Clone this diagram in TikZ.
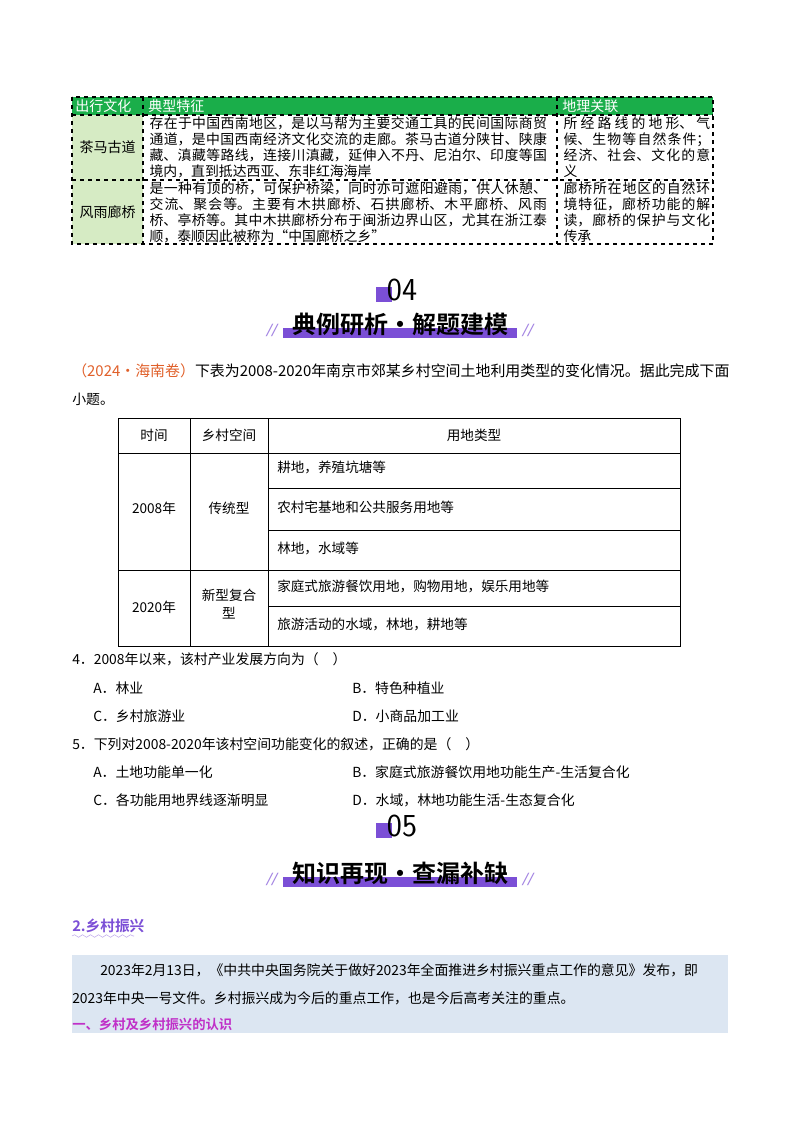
\documentclass[tikz,border=0pt]{standalone}
\usepackage{fontspec}
\setmainfont{Liberation Serif}
\newfontfamily\cjk{Noto Sans CJK SC}
\newfontfamily\cjkb{Noto Sans CJK SC Bold}
\XeTeXlinebreaklocale "zh"
\XeTeXlinebreakskip=0pt plus 1pt
\usetikzlibrary{decorations.pathmorphing}
\definecolor{hgreen}{HTML}{1AAE4A}
\definecolor{lgreen}{HTML}{D6EBC4}
\definecolor{purp}{HTML}{7B4FD6}
\definecolor{lblue}{HTML}{DCE6F2}
\definecolor{magen}{HTML}{C030C8}
\definecolor{orng}{HTML}{E0602A}
\tikzset{
 cell/.style={anchor=north west,inner sep=1pt,align=justify,font=\cjk\fontsize{10.4}{11.9}\selectfont},
 ctr/.style={font=\cjk\fontsize{10.5}{12}\selectfont},
 body/.style={anchor=west,inner sep=0pt,font=\cjk\fontsize{10.4}{12}\selectfont},
 tcell/.style={anchor=west,inner sep=0pt,font=\cjk\fontsize{10.2}{13}\selectfont},
 dl/.style={dashed,line width=0.8pt},
 tl/.style={line width=0.6pt},
 slash/.style={font=\bfseries\fontsize{14}{14}\selectfont\itshape,text=purp!70}
}
\begin{document}
\begin{tikzpicture}[x=0.75pt,y=-0.75pt]
\useasboundingbox (0,0) rectangle (800,1132);
% top table
\fill[hgreen] (72,97) rectangle (713,115);
\fill[lgreen] (72,115) rectangle (143,244);
\draw[dl] (72,97) rectangle (713,244);
\draw[dl] (72,115) -- (713,115);
\draw[dl] (72,180) -- (713,180);
\draw[dl] (143,97) -- (143,244);
\draw[dl] (557,97) -- (557,244);
\node[ctr,text=white,anchor=west,inner sep=0pt] (h1) at (75,106) {出行文化};
\node[ctr,text=white,anchor=west,inner sep=0pt] (h2) at (148,106) {典型特征};
\node[ctr,text=white,anchor=west,inner sep=0pt] (h3) at (562,106) {地理关联};
\node[ctr] (r1) at (107.5,147.5) {茶马古道};
\node[ctr] (r2) at (107.5,212) {风雨廊桥};
\node[cell,text width=298pt] (c11) at (148,115.5) {存在于中国西南地区，是以马帮为主要交通工具的民间国际商贸通道，是中国西南经济文化交流的走廊。茶马古道分陕甘、陕康藏、滇藏等路线，连接川滇藏，延伸入不丹、尼泊尔、印度等国境内，直到抵达西亚、东非红海海岸};
\node[cell,text width=110pt] (c12) at (562,115.5) {所经路线的地形、气候、生物等自然条件；经济、社会、文化的意义};
\node[cell,text width=298pt] (c21) at (148,180.5) {是一种有顶的桥，可保护桥梁，同时亦可遮阳避雨，供人休憩、交流、聚会等。主要有木拱廊桥、石拱廊桥、木平廊桥、风雨桥、亭桥等。其中木拱廊桥分布于闽浙边界山区，尤其在浙江泰顺，泰顺因此被称为“中国廊桥之乡”};
\node[cell,text width=110pt] (c22) at (562,180.5) {廊桥所在地区的自然环境特征，廊桥功能的解读，廊桥的保护与文化传承};
% 04 header
\fill[purp] (376,287) rectangle (392,302);
\node[font=\sffamily\fontsize{24}{24}\selectfont,inner sep=0pt] (n04) at (402,290) {04};
\fill[purp] (283,328) rectangle (517,338);
\node[font=\cjkb\fontsize{18}{18}\selectfont,inner sep=0pt] (t04) at (400,324) {典例研析•解题建模};
\node[slash] (s1) at (272,330) {//};
\node[slash] (s2) at (528,330) {//};
% question intro
\node[body,font=\cjk\fontsize{11.2}{12}\selectfont] (q0) at (72,371) {\textcolor{orng}{（2024·海南卷）}下表为2008-2020年南京市郊某乡村空间土地利用类型的变化情况。据此完成下面};
\node[body] (q0b) at (72,399) {小题。};
% table 2
\draw[tl] (118,418) rectangle (680,646);
\draw[tl] (118,453) -- (680,453);
\draw[tl] (268,488) -- (680,488);
\draw[tl] (268,530) -- (680,530);
\draw[tl] (118,570) -- (680,570);
\draw[tl] (268,606) -- (680,606);
\draw[tl] (190,418) -- (190,646);
\draw[tl] (268,418) -- (268,646);
\node[tcell,anchor=center] (t1) at (154,435) {时间};
\node[tcell,anchor=center] (t2) at (229,435) {乡村空间};
\node[tcell,anchor=center] (t3) at (474,435) {用地类型};
\node[tcell,anchor=center] (y1) at (154,508) {2008年};
\node[tcell,anchor=center] (k1) at (229,508) {传统型};
\node[tcell,anchor=center] (y2) at (154,607) {2020年};
\node[tcell,anchor=center,align=center] (k2) at (229,604) {新型复合\\型};
\node[tcell] (u1) at (277,467) {耕地，养殖坑塘等};
\node[tcell] (u2) at (277,507) {农村宅基地和公共服务用地等};
\node[tcell] (u3) at (277,548) {林地，水域等};
\node[tcell] (u4) at (277,586) {家庭式旅游餐饮用地，购物用地，娱乐用地等};
\node[tcell] (u5) at (277,624) {旅游活动的水域，林地，耕地等};
% questions
\node[body] (q4) at (72,659) {4．2008年以来，该村产业发展方向为（　）};
\node[body] (a4) at (93,688) {A．林业};
\node[body] (b4) at (352,688) {B．特色种植业};
\node[body] (c4) at (93,716) {C．乡村旅游业};
\node[body] (d4) at (352,716) {D．小商品加工业};
\node[body] (q5) at (72,744) {5．下列对2008-2020年该村空间功能变化的叙述，正确的是（　）};
\node[body] (a5) at (93,772) {A．土地功能单一化};
\node[body] (b5) at (352,772) {B．家庭式旅游餐饮用地功能生产-生活复合化};
\node[body] (c5) at (93,800) {C．各功能用地界线逐渐明显};
\node[body] (d5) at (352,800) {D．水域，林地功能生活-生态复合化};
% 05 header
\fill[purp] (376,823) rectangle (392,838);
\node[font=\sffamily\fontsize{24}{24}\selectfont,inner sep=0pt] (n05) at (402,826) {05};
\fill[purp] (283,877) rectangle (517,887);
\node[font=\cjkb\fontsize{18}{18}\selectfont,inner sep=0pt] (t05) at (400,873) {知识再现•查漏补缺};
\node[slash] (s3) at (272,879) {//};
\node[slash] (s4) at (528,879) {//};
% section 2
\node[body,font=\cjkb\fontsize{11}{12}\selectfont,text=purp] (sec) at (72,926) {2.乡村振兴};
\draw[purp!50,decorate,decoration={snake,amplitude=1pt,segment length=6pt}] (72,936) -- (134,936);
\fill[lblue] (72,955) rectangle (728,1033);
\node[body] (p1) at (100,970) {2023年2月13日，《中共中央国务院关于做好2023年全面推进乡村振兴重点工作的意见》发布，即};
\node[body] (p2) at (72,998) {2023年中央一号文件。乡村振兴成为今后的重点工作，也是今后高考关注的重点。};
\node[body,font=\cjkb\fontsize{10}{12}\selectfont,text=magen] (p3) at (72,1024) {一、乡村及乡村振兴的认识};
\end{tikzpicture}
\end{document}
